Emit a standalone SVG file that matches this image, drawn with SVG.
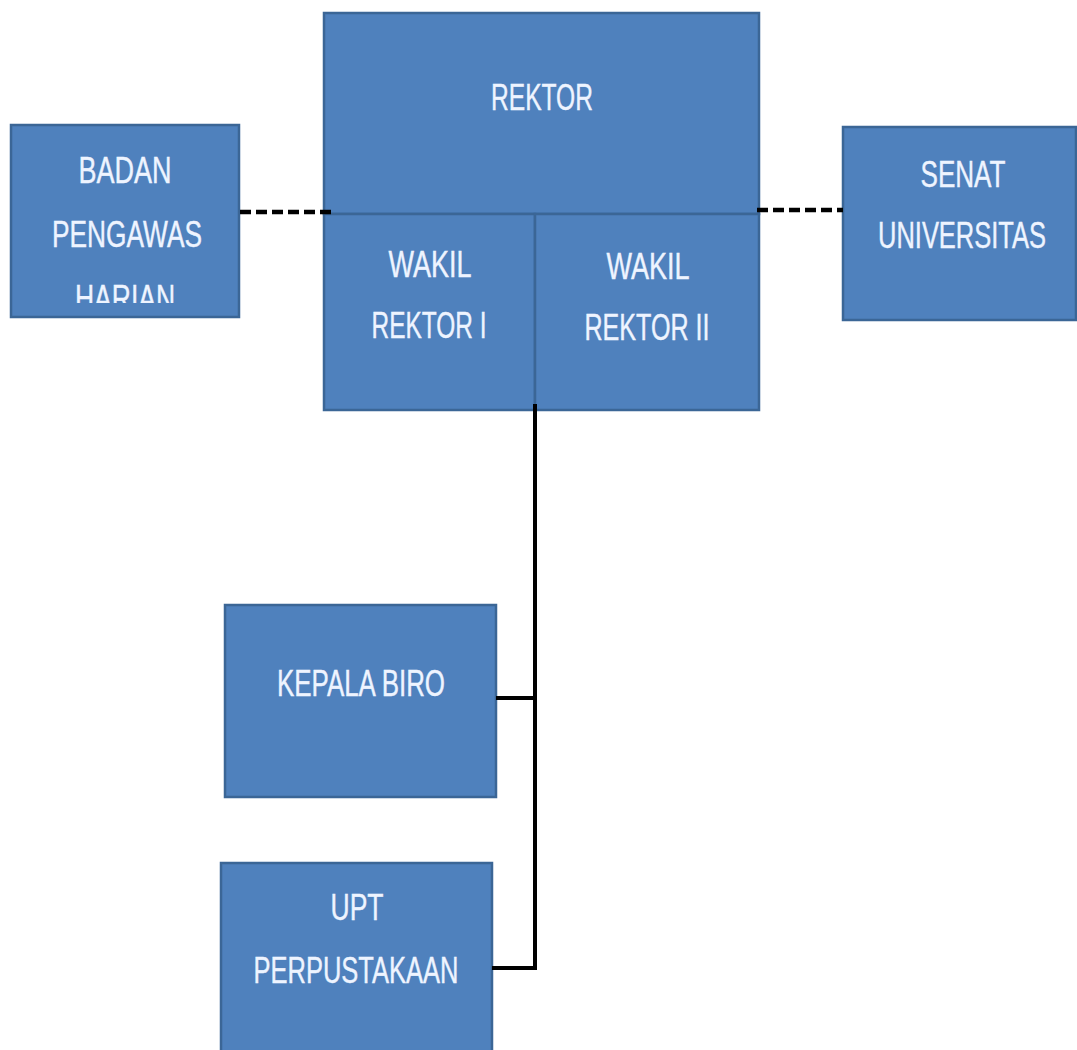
<svg xmlns="http://www.w3.org/2000/svg" width="1077" height="1050" viewBox="0 0 1077 1050">
<style>
.box{fill:#4f81bd;stroke:#3b6696;stroke-width:2.5}
.t{font-family:"Liberation Sans Narrow","Liberation Sans",sans-serif;font-size:36px;fill:#eef4ff;text-anchor:middle;stroke:#eef4ff;stroke-width:0.4}
.dash{stroke:#000;stroke-width:4.5;stroke-dasharray:11 5;fill:none}
.solid{stroke:#000;stroke-width:4;fill:none}
</style>
<defs>
<clipPath id="clipBadan"><rect x="11" y="125" width="228" height="178"/></clipPath>
</defs>
<rect width="1077" height="1050" fill="#ffffff"/>
<g id="badan">
<rect class="box" x="11" y="125" width="228" height="192"/>
<g clip-path="url(#clipBadan)">
<text class="t" x="125" y="183" textLength="93" lengthAdjust="spacingAndGlyphs">BADAN</text>
<text class="t" x="127" y="247" textLength="150" lengthAdjust="spacingAndGlyphs">PENGAWAS</text>
<text class="t" x="125" y="311" textLength="100" lengthAdjust="spacingAndGlyphs">HARIAN</text>
</g>
</g>
<g id="rektor">
<rect class="box" x="324" y="13" width="435" height="201"/>
<text class="t" x="542" y="110" textLength="102" lengthAdjust="spacingAndGlyphs">REKTOR</text>
</g>
<g id="wakil1">
<rect class="box" x="324" y="214" width="211" height="196"/>
<text class="t" x="430" y="277" textLength="83" lengthAdjust="spacingAndGlyphs">WAKIL</text>
<text class="t" x="429" y="338" textLength="115" lengthAdjust="spacingAndGlyphs">REKTOR I</text>
</g>
<g id="wakil2">
<rect class="box" x="535" y="214" width="224" height="196"/>
<text class="t" x="648" y="279" textLength="83" lengthAdjust="spacingAndGlyphs">WAKIL</text>
<text class="t" x="647" y="340" textLength="125" lengthAdjust="spacingAndGlyphs">REKTOR II</text>
</g>
<g id="senat">
<rect class="box" x="843" y="127" width="233" height="193"/>
<text class="t" x="963" y="187" textLength="85" lengthAdjust="spacingAndGlyphs">SENAT</text>
<text class="t" x="962" y="248" textLength="168" lengthAdjust="spacingAndGlyphs">UNIVERSITAS</text>
</g>
<g id="kepala">
<rect class="box" x="225" y="605" width="271" height="192"/>
<text class="t" x="361" y="696" textLength="168" lengthAdjust="spacingAndGlyphs">KEPALA BIRO</text>
</g>
<g id="upt">
<rect class="box" x="221" y="863" width="271" height="200"/>
<text class="t" x="357" y="920" textLength="53" lengthAdjust="spacingAndGlyphs">UPT</text>
<text class="t" x="356" y="983" textLength="205" lengthAdjust="spacingAndGlyphs">PERPUSTAKAAN</text>
</g>
<g id="connectors">
<line class="dash" x1="240" y1="212" x2="334" y2="212"/>
<line class="dash" x1="757" y1="210" x2="843" y2="210"/>
<polyline class="solid" points="535,404 535,968 492,968"/>
<line class="solid" x1="496" y1="698" x2="535" y2="698"/>
</g>
</svg>
